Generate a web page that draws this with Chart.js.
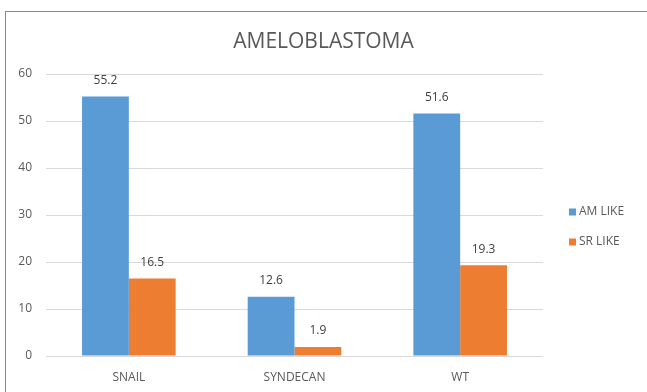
<!DOCTYPE html>
<html>
<head>
<meta charset="utf-8">
<script src="https://cdn.jsdelivr.net/npm/chart.js@4/dist/chart.umd.min.js"></script>
<style>
  html, body { margin: 0; padding: 0; background: #fff; }
  #wrap { position: relative; width: 647px; height: 392px; overflow: hidden; }
  #frame { position: absolute; left: 5px; top: 11px; width: 700px; height: 420px; border: 1.5px solid #8a8a8a; box-sizing: border-box; pointer-events: none; }
  canvas { position: absolute; left: 0; top: 0; }
</style>
</head>
<body>
<div id="wrap">
  <canvas id="c" width="647" height="392"></canvas>
  <div id="frame"></div>
</div>
<script>
const title = "AMELOBLASTOMA";
const categories = ["SNAIL", "SYNDECAN", "WT"];
const seriesNames = ["AM LIKE", "SR LIKE"];
const amLike = [55.2, 12.6, 51.6];
const srLike = [16.5, 1.9, 19.3];
const yTicks = [0, 10, 20, 30, 40, 50, 60];

const FONT = "'Open Sans', 'Noto Sans', sans-serif";

const valueLabels = {
  id: 'valueLabels',
  afterDatasetsDraw(chart) {
    const ctx = chart.ctx;
    ctx.save();
    ctx.font = "12px " + FONT;
    ctx.fillStyle = "#404040";
    ctx.textAlign = "center";
    ctx.textBaseline = "middle";
    chart.data.datasets.forEach((ds, i) => {
      chart.getDatasetMeta(i).data.forEach((bar, j) => {
        ctx.fillText(ds.data[j].toFixed(1), bar.x, bar.y - 16);
      });
    });
    ctx.restore();
  }
};

const titleAndLegend = {
  id: 'titleAndLegend',
  afterDraw(chart) {
    const ctx = chart.ctx;
    ctx.save();
    ctx.font = "21px " + FONT;
    ctx.fillStyle = "#595959";
    ctx.textAlign = "center";
    ctx.textBaseline = "middle";
    ctx.fillText(title, chart.width / 2, 42);

    ctx.font = "12px " + FONT;
    ctx.textAlign = "left";
    const x0 = chart.chartArea.right + 26;
    const yc = (chart.chartArea.top + chart.chartArea.bottom) / 2 + 11;
    chart.data.datasets.forEach((ds, i) => {
      const y = yc - 14 + i * 30;
      ctx.fillStyle = ds.backgroundColor;
      ctx.fillRect(x0, y - 3.5, 7, 7);
      ctx.fillStyle = "#595959";
      ctx.fillText(ds.label, x0 + 10, y);
    });
    ctx.restore();
  }
};

new Chart(document.getElementById('c'), {
  type: 'bar',
  data: {
    labels: categories,
    datasets: [
      { label: seriesNames[0], data: amLike, backgroundColor: '#5B9BD5' },
      { label: seriesNames[1], data: srLike, backgroundColor: '#ED7D31' }
    ]
  },
  options: {
    responsive: false,
    animation: false,
    devicePixelRatio: 1,
    layout: { padding: { left: 0, right: 104, top: 74, bottom: 0 } },
    datasets: { bar: { categoryPercentage: 0.565, barPercentage: 1.0 } },
    plugins: {
      legend: { display: false },
      tooltip: { enabled: false },
      title: { display: false }
    },
    scales: {
      x: {
        grid: { display: false, drawTicks: false },
        border: { display: false },
        ticks: { color: '#595959', font: { family: FONT, size: 12 }, padding: 14 },
        afterFit(s) { s.height = 36; }
      },
      y: {
        min: 0, max: 60,
        afterBuildTicks(s) { s.ticks = yTicks.map(v => ({ value: v })); },
        grid: { color: '#d9d9d9', lineWidth: 1, drawTicks: false },
        border: { display: false },
        ticks: { color: '#595959', font: { family: FONT, size: 12 }, padding: 14 },
        afterFit(s) { s.width = 46; }
      }
    }
  },
  plugins: [valueLabels, titleAndLegend]
});
</script>
</body>
</html>
